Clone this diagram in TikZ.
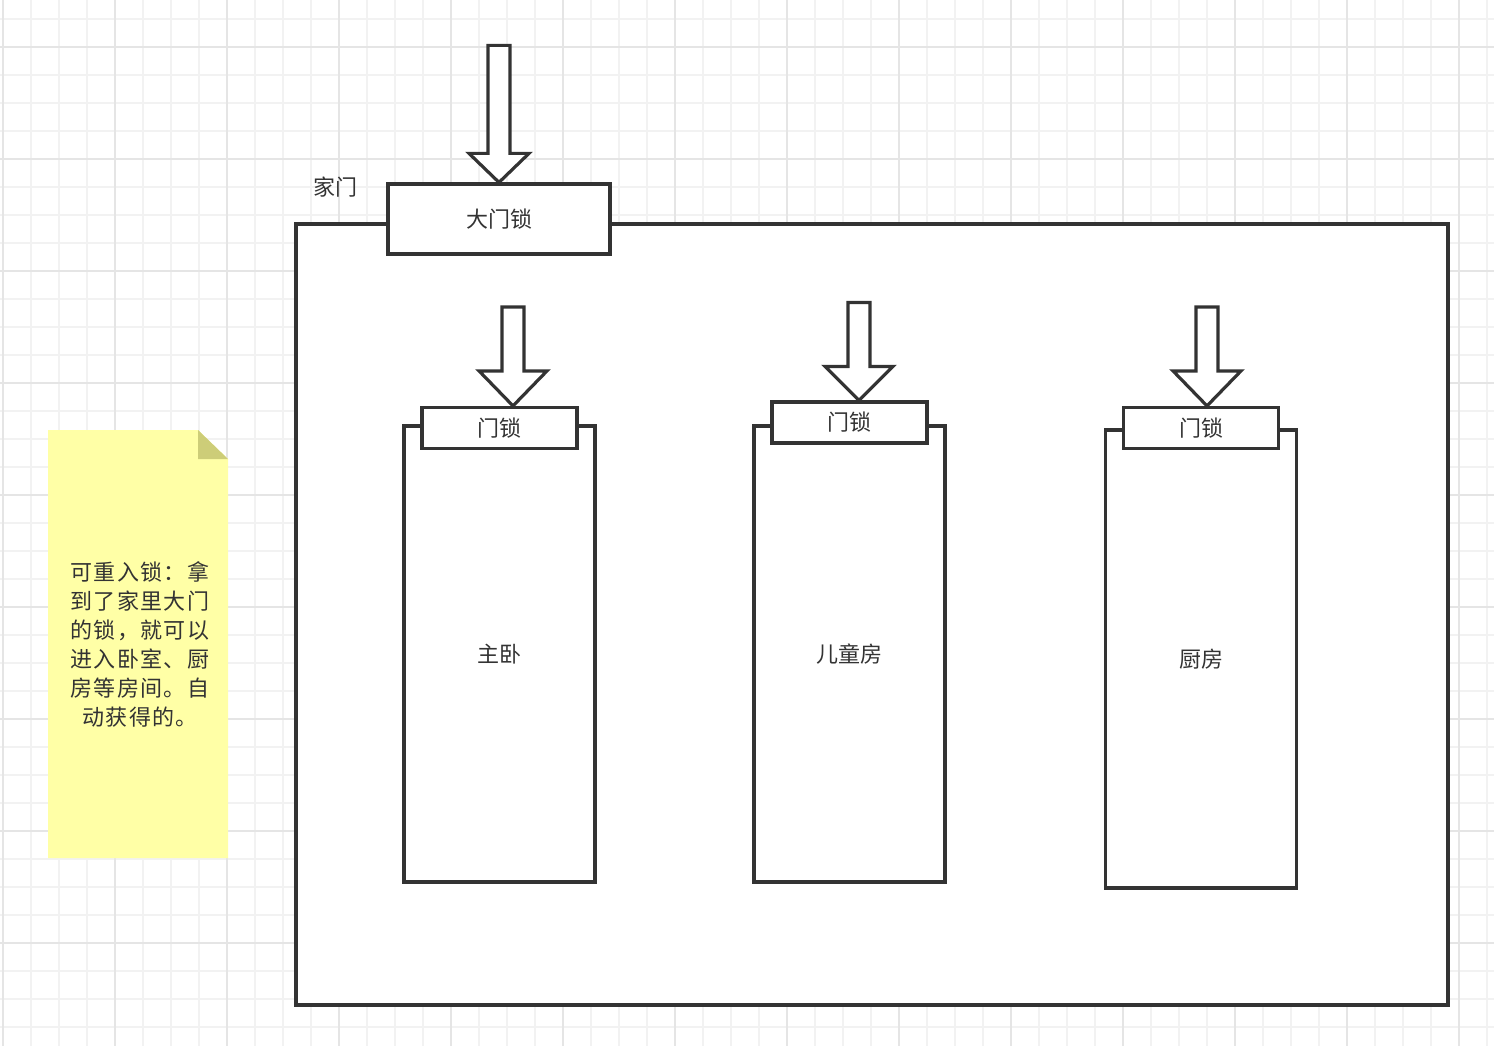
\documentclass[tikz,border=0pt]{standalone}
\usepackage{fontspec}
\setmainfont{Noto Sans CJK SC}
\usepackage{xcolor}
\usetikzlibrary{positioning, calc}

\definecolor{linegray}{RGB}{51,51,51}
\definecolor{textgray}{RGB}{51,51,51}
\definecolor{gridminor}{RGB}{242,242,242}
\definecolor{gridmajor}{RGB}{229,229,229}
\definecolor{noteyellow}{RGB}{255,255,166}
\definecolor{notefold}{RGB}{205,205,120}

% #1 tip point, #2 total length, #3 half head width, #4 head length
\newcommand{\lockarrow}[4]{%
  \draw[boxline] (#1) -- ++(-#3,-#4) -- ++({#3-11},0) -- ++(0,{-(#2-#4)})
    -- ++(22,0) -- ++(0,{#2-#4}) -- ++({#3-11},0) -- cycle;}

\begin{document}
\begin{tikzpicture}[x=1pt, y=-1pt, font=\fontsize{22}{29}\selectfont, text=textgray,
  boxline/.style={draw=linegray, line width=3.2pt, fill=white, line join=miter},
  roombox/.style={rectangle, boxline, minimum width=191pt, minimum height=456pt, inner sep=0pt},
  lockbox/.style={rectangle, boxline, minimum width=155pt, minimum height=41pt, inner sep=0pt}]
		\useasboundingbox (0,0) rectangle (1494,1046);
		% grid
		\foreach \x in {3,31,...,1494} \draw[gridminor, line width=1.5pt] (\x,0) -- (\x,1046);
		\foreach \y in {19,47,...,1046} \draw[gridminor, line width=1.5pt] (0,\y) -- (1494,\y);
		\foreach \x in {3,115,...,1494} \draw[gridmajor, line width=2pt] (\x,0) -- (\x,1046);
		\foreach \y in {47,159,...,1046} \draw[gridmajor, line width=2pt] (0,\y) -- (1494,\y);
		
		% note
		\fill[noteyellow] (48,430) -- (198,430) -- (228,459) -- (228,858) -- (48,858) -- cycle;
		\fill[notefold] (198,430) -- (228,459) -- (198,459) -- cycle;
		\node[align=center, font=\fontsize{22}{29}\selectfont\addfontfeature{LetterSpace=6}] (note) at (140,644) {可重入锁：拿\\到了家里大门\\的锁，就可以\\进入卧室、厨\\房等房间。自\\动获得的。};
		
		% house
		\node[rectangle, boxline, minimum width=1152pt, minimum height=781pt, inner sep=0pt] (house) at (872,614.5) {};
		\node (houselabel) at (335,187) {家门};
		\node[rectangle, boxline, minimum width=222pt, minimum height=70pt, inner sep=0pt] (mainlock) at (499,219) {大门锁};
		\lockarrow{mainlock.north}{137}{30}{29}
		
		% rooms
		\node[roombox] (master) at (499.5,654) {主卧};
		\node[lockbox] (lock1) at (499.5,428) {门锁};
		\lockarrow{[xshift=13.5pt]lock1.north}{99}{34}{35}
		
		\node[roombox] (kids) at (849.5,654) {儿童房};
		\node[lockbox] (lock2) at (849.5,422.5) {门锁};
		\lockarrow{[xshift=9.5pt]lock2.north}{98}{34}{34}
		
		\node[roombox, minimum height=458pt] (kitchen) at (1201,659) {厨房};
		\node[lockbox] (lock3) at (1201,428) {门锁};
		\lockarrow{[xshift=6pt]lock3.north}{99}{34}{35}
\end{tikzpicture}
\end{document}
